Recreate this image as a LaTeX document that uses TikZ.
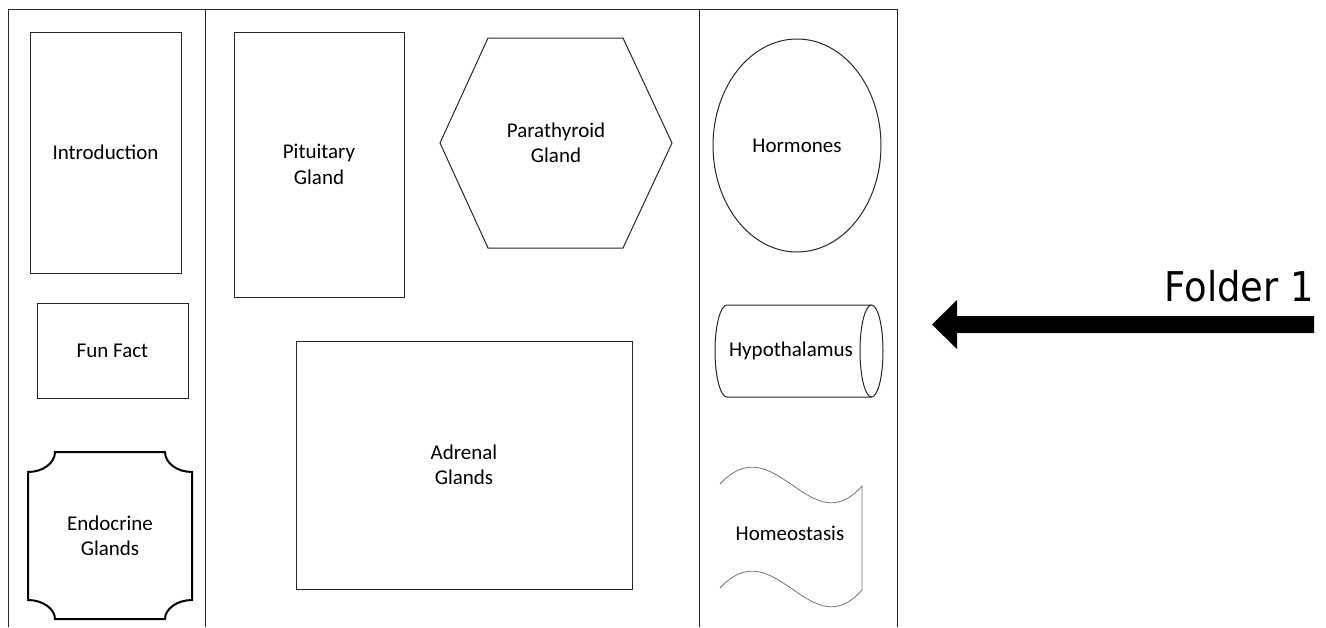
\documentclass[tikz,border=0pt]{standalone}
\usepackage{fontspec}
\setmainfont{Carlito}
\newfontfamily\foldfont{DejaVu Sans Condensed}
\usetikzlibrary{shapes.geometric}
\newcommand\lblfont{\fontsize{21}{25.5}\selectfont}
\tikzset{
  frameline/.style={draw=black!85, line width=1pt},
  box/.style={draw=black!85, line width=1pt, inner sep=0pt, align=center, font=\lblfont},
  lbl/.style={inner sep=0pt, align=center, font=\lblfont},
  wavy/.style={draw=black!55, line width=0.8pt},
  thick box/.style={draw=black, line width=2pt, line join=miter},
}
\begin{document}
\begin{tikzpicture}[x=1pt, y=-1pt]
\useasboundingbox (0,0) rectangle (1326,627);
% frame
\draw[frameline] (8,627) -- (8,9) -- (897,9) -- (897,627);
\draw[frameline] (205,9) -- (205,627);
\draw[frameline] (699,9) -- (699,627);
% left column
\node[box, minimum width=151, minimum height=241] (intro) at (105.5,152.5) {Introduction};
\node[box, minimum width=151, minimum height=95] (fun) at (112.5,350.5) {Fun Fact};
\draw[thick box] (55,452) -- (165,452)
  .. controls (165,463) and (177.1,472) .. (192,472) -- (192,600)
  .. controls (177.1,600) and (165,609) .. (165,619) -- (55,619)
  .. controls (55,609) and (42.9,600) .. (28,600) -- (28,472)
  .. controls (42.9,472) and (55,463) .. (55,452) -- cycle;
\node[lbl] (endo) at (110,536) {Endocrine\\Glands};
% middle column
\node[box, minimum width=170, minimum height=265] (pit) at (319,164.5) {Pituitary\\Gland};
\draw[frameline] (440,143) -- (488,38) -- (623,38) -- (672,143) -- (623,248) -- (488,248) -- cycle;
\node[lbl] (para) at (556,143) {Parathyroid\\Gland};
\node[box, minimum width=336, minimum height=248] (adr) at (464,465) {Adrenal\\Glands};
% right column
\node[box, shape=ellipse, minimum width=168, minimum height=213] (horm) at (797,145.5) {Hormones};
\draw[frameline] (727,305) -- (871.5,305)
  .. controls (877.85,305) and (883,325.6) .. (883,351)
  .. controls (883,376.4) and (877.85,397) .. (871.5,397) -- (727,397)
  .. controls (720.4,397) and (715,376.4) .. (715,351)
  .. controls (715,325.6) and (720.4,305) .. (727,305);
\draw[frameline] (871.5,305)
  .. controls (865.15,305) and (860,325.6) .. (860,351)
  .. controls (860,376.4) and (865.15,397) .. (871.5,397);
\node[lbl] (hypo) at (791,351) {Hypothalamus};
\draw[wavy] (720,484) .. controls (775,425) and (810,545) .. (862,486) -- (862,590);
\draw[wavy] (720,588) .. controls (775,529) and (810,649) .. (862,590);
\node[lbl] (homeo) at (790,533) {Homeostasis};
% arrow and label
\fill[black] (1314,316) -- (957,316) -- (957,300) -- (932,324.5) -- (957,349) -- (957,333) -- (1314,333) -- cycle;
\node[inner sep=0pt, anchor=base east, font=\foldfont\fontsize{41}{48}\selectfont] (folder) at (1314,301) {Folder 1};
\end{tikzpicture}
\end{document}
